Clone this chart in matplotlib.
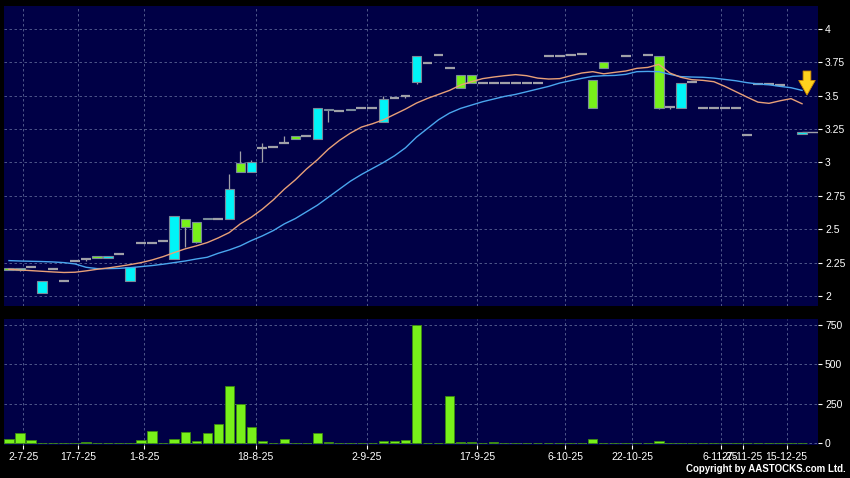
import matplotlib
matplotlib.use('Agg')
import matplotlib.pyplot as plt
import numpy as np

plt.rcParams['font.family'] = ['Liberation Sans', 'DejaVu Sans']

# daily open / close / high / low (nan = no candle drawn)
nan = float('nan')
opens = [2.21, 2.195, 2.22, 2.02, 2.20, 2.11, 2.26, 2.28, 2.30, 2.285,
         2.315, 2.11, 2.40, 2.395, 2.41, 2.28, 2.58, 2.557, 2.585, 2.577,
         2.58, 2.995, 2.925, 3.11, 3.114, 3.148, 3.20, 3.20, 3.174, 3.40,
         3.388, 3.39, 3.406, 3.406, 3.303, 3.481, 3.50, 3.60, 3.745, 3.803,
         3.705, 3.653, 3.653, 3.598, 3.596, 3.598, 3.593, 3.593, 3.593, 3.795,
         3.80, 3.805, 3.81, 3.616, 3.75, nan, 3.80, nan, 3.803, 3.798,
         3.413, 3.406, 3.60, 3.406, 3.406, 3.406, 3.406, 3.204, 3.59, 3.59,
         3.58, nan, 3.215]
closes = [2.195, 2.21, 2.22, 2.11, 2.20, 2.11, 2.26, 2.28, 2.285, 2.30,
          2.315, 2.22, 2.40, 2.395, 2.41, 2.60, 2.515, 2.407, 2.575, 2.577,
          2.80, 2.925, 3.0, 3.11, 3.114, 3.148, 3.174, 3.20, 3.406, 3.39,
          3.388, 3.40, 3.406, 3.406, 3.473, 3.481, 3.50, 3.80, 3.745, 3.803,
          3.705, 3.556, 3.598, 3.598, 3.596, 3.598, 3.593, 3.593, 3.593, 3.795,
          3.80, 3.805, 3.81, 3.406, 3.705, nan, 3.80, nan, 3.803, 3.41,
          3.413, 3.593, 3.60, 3.406, 3.406, 3.406, 3.406, 3.204, 3.59, 3.59,
          3.58, nan, 3.225]
highs = [2.21, 2.21, 2.22, 2.11, 2.20, 2.11, 2.26, 2.28, 2.30, 2.30,
         2.315, 2.22, 2.40, 2.395, 2.41, 2.60, 2.58, 2.557, 2.585, 2.577,
         2.91, 3.085, 3.02, 3.145, 3.114, 3.20, 3.20, 3.20, 3.406, 3.40,
         3.388, 3.40, 3.406, 3.406, 3.495, 3.481, 3.50, 3.80, 3.745, 3.803,
         3.705, 3.653, 3.653, 3.598, 3.596, 3.598, 3.593, 3.593, 3.593, 3.795,
         3.80, 3.805, 3.81, 3.616, 3.75, nan, 3.80, nan, 3.803, 3.798,
         3.413, 3.593, 3.60, 3.406, 3.406, 3.406, 3.406, 3.204, 3.59, 3.59,
         3.58, nan, 3.225]
lows = [2.195, 2.185, 2.22, 2.02, 2.20, 2.11, 2.26, 2.265, 2.285, 2.285,
        2.315, 2.11, 2.40, 2.395, 2.41, 2.28, 2.37, 2.40, 2.575, 2.577,
        2.58, 2.925, 2.925, 3.0, 3.114, 3.148, 3.174, 3.20, 3.174, 3.30,
        3.388, 3.39, 3.406, 3.406, 3.303, 3.481, 3.48, 3.59, 3.745, 3.803,
        3.705, 3.556, 3.598, 3.598, 3.596, 3.598, 3.593, 3.593, 3.593, 3.795,
        3.80, 3.805, 3.81, 3.406, 3.705, nan, 3.80, nan, 3.803, 3.40,
        3.40, 3.406, 3.60, 3.406, 3.406, 3.406, 3.406, 3.204, 3.59, 3.59,
        3.58, nan, 3.215]

# moving averages (orange = short, blue = long)
ma_short = [2.20, 2.195, 2.19, 2.185, 2.18, 2.176, 2.178, 2.188, 2.20, 2.21,
            2.222, 2.235, 2.25, 2.27, 2.295, 2.325, 2.353, 2.375, 2.40, 2.435,
            2.475, 2.54, 2.59, 2.65, 2.72, 2.80, 2.87, 2.95, 3.02, 3.10,
            3.165, 3.22, 3.265, 3.29, 3.32, 3.36, 3.40, 3.445, 3.48, 3.51,
            3.54, 3.58, 3.605, 3.628, 3.64, 3.65, 3.658, 3.65, 3.632, 3.625,
            3.628, 3.65, 3.67, 3.68, 3.664, 3.675, 3.685, 3.705, 3.712, 3.735,
            3.67, 3.638, 3.62, 3.615, 3.605, 3.57, 3.53, 3.49, 3.452, 3.443,
            3.462, 3.478, 3.44]
ma_long = [2.265, 2.262, 2.26, 2.258, 2.255, 2.25, 2.24, 2.215, 2.205, 2.205,
           2.207, 2.212, 2.22, 2.228, 2.238, 2.25, 2.262, 2.277, 2.29, 2.32,
           2.345, 2.375, 2.415, 2.45, 2.49, 2.54, 2.58, 2.63, 2.68, 2.74,
           2.80, 2.86, 2.91, 2.955, 3.0, 3.05, 3.11, 3.19, 3.255, 3.32,
           3.37, 3.405, 3.43, 3.455, 3.475, 3.495, 3.51, 3.53, 3.55, 3.57,
           3.595, 3.613, 3.63, 3.645, 3.65, 3.652, 3.66, 3.68, 3.682, 3.68,
           3.66, 3.643, 3.64, 3.638, 3.632, 3.622, 3.612, 3.598, 3.588, 3.582,
           3.57, 3.56, 3.54]

volume = [28, 64, 21, 2, 2, 0, 2, 8, 0, 0,
          0, 0, 19, 78, 1, 28, 70, 17, 68, 123,
          364, 250, 104, 13, 1, 28, 0, 0, 64, 8,
          1, 1, 1, 0, 15, 13, 21, 748, 3, 0,
          297, 8, 8, 2, 6, 1, 1, 1, 0, 0,
          0, 0, 0, 25, 0, 0, 0, 0, 0, 17,
          0, 0, 0, 0, 0, 0, 1, 0, 1, 0,
          0, 0, 0]

date_pos = [1.3, 6.3, 12.3, 22.4, 32.5, 42.5, 50.5, 56.6, 64.6, 66.6, 70.6]
date_labels = ['2-7-25', '17-7-25', '1-8-25', '18-8-25', '2-9-25', '17-9-25',
               '6-10-25', '22-10-25', '6-11-25', '27-11-25', '15-12-25']
price_ticks = [2, 2.25, 2.5, 2.75, 3, 3.25, 3.5, 3.75, 4]
price_labels = ['2', '2.25', '2.5', '2.75', '3', '3.25', '3.5', '3.75', '4']
vol_ticks = [0, 250, 500, 750]

BG = '#000046'
GRID = '#5a6494'
UP = '#00f4f8'
DOWN = '#78f01a'
EDGE = '#7a8a9a'
FLAT = '#a0a0a8'

fig = plt.figure(figsize=(8.5, 4.78), dpi=100, facecolor='black')
ax = fig.add_axes([4/850, 1-306/478, 814/850, 300/478])
axv = fig.add_axes([4/850, 1-445/478, 814/850, 126/478], sharex=ax)

x = np.arange(len(closes))
for a in (ax, axv):
    a.set_facecolor(BG)
    for s in a.spines.values():
        s.set_visible(False)
    a.grid(True, color=GRID, linestyle=(0, (3, 3)), linewidth=0.6)
    a.set_axisbelow(True)
    a.tick_params(colors='white', labelsize=7.5, length=3, width=0.8, pad=2)
    a.yaxis.tick_right()

# candles
for i in x:
    o, c, h, l = opens[i], closes[i], highs[i], lows[i]
    if np.isnan(o):
        continue
    if h > max(o, c) or l < min(o, c):
        ax.vlines(i, l, h, color=FLAT, lw=0.9, zorder=2)
    if o == c:
        ax.hlines(c, i - 0.45, i + 0.45, color=FLAT, lw=1.6, zorder=3)
    else:
        col = UP if c > o else DOWN
        ax.bar(i, abs(c - o), bottom=min(o, c), width=0.85, color=col,
               edgecolor=EDGE, linewidth=0.8, zorder=3)

ax.plot(x, ma_long, color='#4aa6ee', lw=1.0, zorder=4)
ax.plot(x, ma_short, color='#e8a078', lw=1.0, zorder=4)

# last price line and signal arrow
last = x[-1]
ax.hlines(closes[-1], last, 73.45, color=FLAT, lw=1.0, zorder=2)
ax.annotate('', xy=(last + 0.45, ma_long[-1] - 0.035), xytext=(last + 0.45, ma_long[-1] + 0.145),
            arrowprops=dict(arrowstyle='simple,head_width=0.85,head_length=0.75,tail_width=0.4',
                            fc='#ffd21e', ec='#d08a00', lw=0.6, mutation_scale=14,
                            shrinkA=0, shrinkB=0), zorder=6)

ax.set_ylim(1.925, 4.172)
ax.set_yticks(price_ticks)
ax.set_yticklabels(price_labels)
ax.set_xlim(-0.45, 73.45)
ax.set_xticks(date_pos)
ax.tick_params(axis='x', length=0, labelbottom=False)

axv.bar(x, volume, width=0.85, color=DOWN, edgecolor='#3c8a10', linewidth=0.6, zorder=3)
axv.set_ylim(-11, 788)
axv.set_yticks(vol_ticks)
axv.set_xticks(date_pos)
axv.set_xticklabels(date_labels)

fig.text(0.995, 0.008, 'Copyright by AASTOCKS.com Ltd.', color='white', fontsize=7,
         fontweight='bold', ha='right', va='bottom')

fig.savefig('out.png', dpi=100, facecolor='black')
